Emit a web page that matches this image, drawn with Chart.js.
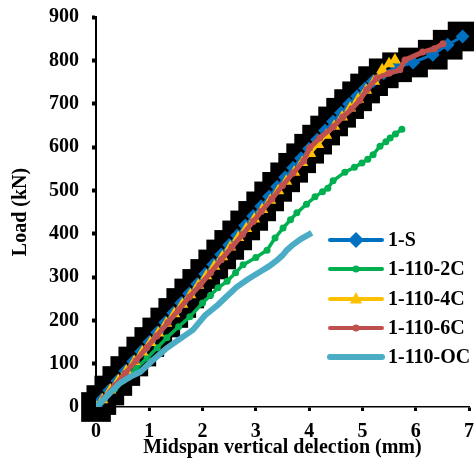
<!DOCTYPE html>
<html>
<head>
<meta charset="utf-8">
<script src="https://cdn.jsdelivr.net/npm/chart.js@4/dist/chart.umd.min.js"></script>
<style>
html,body{margin:0;padding:0;background:#fff;}
#wrap{position:relative;width:474px;height:462px;}
</style>
</head>
<body>
<div id="wrap"><canvas id="c" width="474" height="462"></canvas></div>
<script>
// ---- data ----
const xTicks = [0,1,2,3,4,5,6,7];
const yTicks = [0,100,200,300,400,500,600,700,800,900];
const seriesNames = ["1-S","1-110-2C","1-110-4C","1-110-6C","1-110-OC"];

const s1X = [0,0.1,0.25,0.4,0.55,0.7,0.85,1.0,1.15,1.3,1.45,1.6,1.75,1.9,2.05,2.2,2.35,2.5,2.65,2.8,2.95,3.1,3.25,3.4,3.55,3.7,3.85,4.0,4.15,4.3,4.45,4.6,4.75,4.9,5.05,5.2,5.4,5.65,5.95,6.32,6.6,6.88];
const s1Y = [0,16,38,60,83,105,128,150,172,195,217,240,262,284,307,329,352,374,396,419,441,463,486,508,530,552,574,596,617,638,659,679,699,717,735,752,770,784,795,813,836,855];

const c2X = [0,0.15,0.35,0.55,0.75,0.96,1.15,1.33,1.55,1.76,2.0,2.15,2.29,2.46,2.62,2.76,3.0,3.21,3.36,3.51,3.65,3.77,3.95,4.11,4.25,4.35,4.45,4.67,4.85,4.99,5.1,5.2,5.33,5.44,5.52,5.62,5.74];
const c2Y = [0,18,42,66,89,113,137,160,185,208,240,258,275,290,310,328,345,362,390,413,432,448,468,485,497,505,522,542,553,563,572,582,602,612,621,630,641];

const c4X = [0,0.12,0.27,0.42,0.57,0.72,0.87,1.02,1.17,1.32,1.47,1.62,1.77,1.92,2.07,2.22,2.37,2.52,2.67,2.82,2.97,3.12,3.27,3.42,3.57,3.72,3.87,4.02,4.17,4.32,4.47,4.62,4.77,4.92,5.07,5.22,5.37,5.5,5.61];
const c4Y = [0,17,39,61,83,105,127,149,171,193,215,237,259,281,303,325,347,369,391,412,434,456,477,499,521,542,564,585,606,627,648,669,690,710,731,752,778,792,801];

const c6X = [0,0.15,0.35,0.55,0.75,0.95,1.14,1.35,1.55,1.75,1.95,2.15,2.35,2.55,2.75,2.95,3.1,3.3,3.5,3.7,3.9,4.01,4.2,4.45,4.63,4.8,4.95,5.08,5.27,5.5,5.7,5.8,6.13,6.35,6.51];
const c6Y = [0,20,49,78,107,137,164,195,224,254,281,310,340,369,398,428,451,480,511,540,568,598,621,646,669,688,708,732,759,770,778,801,819,827,838];

const ocX = [0,0.1,0.26,0.45,0.65,0.83,1.05,1.33,1.55,1.82,2.05,2.29,2.45,2.64,2.85,3.08,3.25,3.4,3.5,3.58,3.7,3.85,4.05];
const ocY = [0,12,32,55,70,81,106,136,155,178,212,236,255,277,295,312,325,339,350,362,375,388,402];

const zip = (xs, ys) => xs.map((x, i) => ({x: x, y: ys[i]}));

const FONT = '"Liberation Serif","Times New Roman",serif';

const colors = ["#0070C0", "#00B050", "#FFC000", "#C0504D", "#4BACC6"];

const datasets = [
  {label: seriesNames[0], data: zip(s1X, s1Y), showLine: true, borderColor: colors[0], backgroundColor: colors[0],
   borderWidth: 3, pointStyle: 'rectRot', pointRadius: 7, pointBorderWidth: 0, order: 5},
  {label: seriesNames[1], data: zip(c2X, c2Y), showLine: true, borderColor: colors[1], backgroundColor: colors[1],
   borderWidth: 3.5, pointStyle: 'circle', pointRadius: 3.5, pointBorderWidth: 0, order: 4},
  {label: seriesNames[2], data: zip(c4X, c4Y), showLine: true, borderColor: colors[2], backgroundColor: colors[2],
   borderWidth: 3, pointStyle: 'triangle', pointRadius: 7, pointBorderWidth: 0, order: 3},
  {label: seriesNames[3], data: zip(c6X, c6Y), showLine: true, borderColor: colors[3], backgroundColor: colors[3],
   borderWidth: 5, pointStyle: 'circle', pointRadius: 3.5, pointBorderWidth: 0, order: 2},
  {label: seriesNames[4], data: zip(ocX, ocY), showLine: true, borderColor: colors[4], backgroundColor: colors[4],
   borderWidth: 6, pointRadius: 0, order: 1},
  // dark square marker backdrop seen behind the 1-S series
  {label: '_backdrop', data: zip(s1X, s1Y), showLine: false, borderColor: '#000', backgroundColor: '#000',
   pointStyle: 'rect', pointRadius: 21, pointBorderWidth: 0, order: 10, clip: false}
];

const legendPlugin = {
  id: 'customLegend',
  afterDraw(chart) {
    const ctx = chart.ctx;
    const rows = [240, 269, 299, 328, 357];
    const x0 = 330, x1 = 382, xm = 356, xt = 388;
    ctx.save();
    for (let i = 0; i < 5; i++) {
      const ds = chart.data.datasets[i];
      const y = rows[i];
      ctx.strokeStyle = ds.borderColor;
      ctx.lineWidth = (i === 4) ? 6 : 4;
      ctx.lineCap = 'round';
      ctx.beginPath(); ctx.moveTo(x0, y); ctx.lineTo(x1, y); ctx.stroke();
      ctx.fillStyle = ds.backgroundColor;
      ctx.beginPath();
      if (ds.pointStyle === 'rectRot') {
        const r = 8;
        ctx.moveTo(xm, y - r); ctx.lineTo(xm + r, y); ctx.lineTo(xm, y + r); ctx.lineTo(xm - r, y); ctx.closePath(); ctx.fill();
      } else if (ds.pointStyle === 'triangle') {
        const r = 7;
        ctx.moveTo(xm, y - r); ctx.lineTo(xm + r * 0.87, y + r * 0.5 + 1); ctx.lineTo(xm - r * 0.87, y + r * 0.5 + 1); ctx.closePath(); ctx.fill();
      } else if (ds.pointRadius > 0) {
        ctx.arc(xm, y, 3.5, 0, Math.PI * 2); ctx.fill();
      }
      ctx.fillStyle = '#000';
      ctx.font = 'bold 20px ' + FONT;
      ctx.textBaseline = 'middle';
      ctx.textAlign = 'left';
      ctx.fillText(ds.label, xt, y + 1);
    }
    ctx.restore();
  }
};

new Chart(document.getElementById('c'), {
  type: 'scatter',
  data: {datasets: datasets},
  options: {
    responsive: false,
    animation: false,
    events: [],
    layout: {autoPadding: false, padding: {top: 17, right: 5, left: 0, bottom: 0}},
    elements: {line: {tension: 0}},
    plugins: {legend: {display: false}, tooltip: {enabled: false}},
    scales: {
      x: {
        type: 'linear', min: 0, max: 7,
        afterBuildTicks: (s) => { s.ticks = xTicks.map(v => ({value: v})); },
        afterFit: (s) => { s.height = 55; s.paddingLeft = 0; s.paddingRight = 0; },
        ticks: {color: '#000', font: {family: FONT, size: 20, weight: 'bold'}, padding: 9},
        grid: {drawOnChartArea: false, drawTicks: true, tickLength: 4, tickWidth: 3, tickColor: '#000'},
        border: {display: true, color: '#000', width: 1.5},
        title: {display: true, text: 'Midspan vertical delection (mm)', color: '#000',
                font: {family: FONT, size: 20, weight: 'bold'}, padding: {top: 0, bottom: 2}}
      },
      y: {
        type: 'linear', min: 0, max: 900,
        afterBuildTicks: (s) => { s.ticks = yTicks.map(v => ({value: v})); },
        afterFit: (s) => { s.width = 96; s.paddingTop = 0; s.paddingBottom = 0; },
        ticks: {color: '#000', font: {family: FONT, size: 20, weight: 'bold'}, padding: 13},
        grid: {drawOnChartArea: false, drawTicks: true, tickLength: 4, tickWidth: 4, tickColor: '#000'},
        border: {display: true, color: '#000', width: 2},
        title: {display: true, text: 'Load (kN)', color: '#000',
                font: {family: FONT, size: 20, weight: 'bold'}, padding: {top: 9, bottom: 0}}
      }
    }
  },
  plugins: [legendPlugin]
});
</script>
</body>
</html>
